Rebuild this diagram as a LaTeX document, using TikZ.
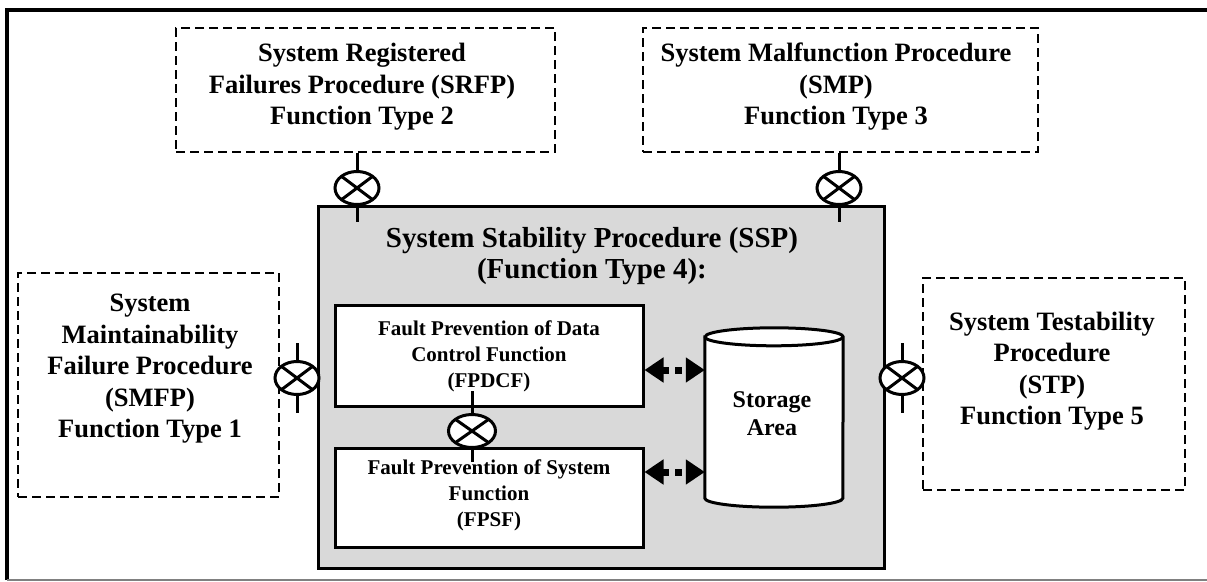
\documentclass[tikz,border=0pt]{standalone}
\usepackage{fontspec}
\setmainfont{Liberation Serif}
\usetikzlibrary{shapes.geometric,arrows.meta,calc}

\tikzset{
  proc/.style={draw, line width=2pt, dash pattern=on 9pt off 5pt, inner sep=0pt},
  lbl/.style={align=center, font=\bfseries\fontsize{26.5}{31.5}\selectfont, inner sep=0pt},
  sub/.style={draw, line width=3pt, fill=white, inner sep=0pt},
  sublbl/.style={align=center, font=\bfseries\fontsize{21}{26}\selectfont, inner sep=0pt},
  xsym/.style={ellipse, draw, line width=3pt, fill=white, minimum width=44pt, minimum height=33pt, inner sep=0pt,
    path picture={\draw[line width=3pt] (path picture bounding box.north west) -- (path picture bounding box.south east)
      (path picture bounding box.north east) -- (path picture bounding box.south west);}},
  stub/.style={line width=3pt},
  flow/.style={line width=7pt, dash pattern=on 7pt off 6pt,
    {Triangle[length=19pt,width=24pt]}-{Triangle[length=19pt,width=24pt]}},
}

\begin{document}
\begin{tikzpicture}[x=1pt, y=-1pt]
\useasboundingbox (0,0) rectangle (1207,581);

% outer frame
\draw[line width=4pt] (7,580) -- (7,10) -- (1207,10);
\draw[gray, line width=1.5pt] (7,580) -- (1207,580);

% outer procedures
\node[proc, minimum width=379pt, minimum height=124pt] (srfp) at (365.5,90) {};
\node[lbl] (srfpt) at (362,87) {System Registered\\Failures Procedure (SRFP)\\Function Type 2};

\node[proc, minimum width=395pt, minimum height=124pt] (smp) at (840.5,90) {};
\node[lbl] (smpt) at (836,87) {System Malfunction Procedure\\(SMP)\\Function Type 3};

\node[proc, minimum width=261pt, minimum height=224pt] (smfp) at (148.5,385) {};
\node[lbl] (smfpt) at (150,369) {System\\Maintainability\\Failure Procedure\\(SMFP)\\Function Type 1};

\node[proc, minimum width=262pt, minimum height=212pt] (stp) at (1054,384) {};
\node[lbl] (stpt) at (1052,371) {System Testability\\Procedure\\(STP)\\Function Type 5};

% stability procedure
\node[draw, line width=3pt, fill=black!15, minimum width=566pt, minimum height=362pt, inner sep=0pt] (ssp) at (601,387) {};
\node[align=center, font=\bfseries\fontsize{29}{31}\selectfont, inner sep=0pt] (sspt) at (592,256)
  {System Stability Procedure (SSP)\\(Function Type 4):};

\node[sub, minimum width=308pt, minimum height=101pt] (fpdcf) at (489,355.5) {};
\node[sublbl] (fpdcft) at (489,356) {Fault Prevention of Data\\Control Function\\(FPDCF)};

\node[sub, minimum width=308pt, minimum height=99pt] (fpsf) at (489,497.5) {};
\node[sublbl] (fpsft) at (489,495) {Fault Prevention of System\\Function\\(FPSF)};

% storage cylinder: frame node plus drawn outline
\node[minimum width=138pt, minimum height=179pt, inner sep=0pt] (store) at (774,417.5) {};
\draw[line width=3pt, fill=white]
  ($(store.north west)+(0,9)$) -- ($(store.south west)+(0,-9)$)
  arc[start angle=180, end angle=360, x radius=69pt, y radius=9pt]
  -- ($(store.north east)+(0,9)$)
  arc[start angle=0, end angle=180, x radius=69pt, y radius=9pt] -- cycle;
\draw[line width=3pt] ($(store.north west)+(0,9)$)
  arc[start angle=180, end angle=360, x radius=69pt, y radius=9pt];
\node[align=center, font=\bfseries\fontsize{24}{28}\selectfont, inner sep=0pt] (storet) at (772,414) {Storage\\Area};

% data flows to storage
\path (fpdcf.east) ++(0,14.5) coordinate (f1);
\path (fpsf.east) ++(0,-25.5) coordinate (f2);
\draw[flow] (f1) -- (f1 -| store.west);
\draw[flow] (f2) -- (f2 -| store.west);

% interface symbols
\node[xsym] (x1) at (357,188) {};
\draw[stub] (x1.north) -- (x1.north |- srfp.south);
\draw[stub] (x1.south) -- ++(0,16);

\node[xsym] (x2) at (839,188) {};
\draw[stub] (x2.north) -- (x2.north |- smp.south);
\draw[stub] (x2.south) -- ++(0,16);

\node[xsym] (x3) at (297,378) {};
\draw[stub] (x3.north) -- ++(0,-17);
\draw[stub] (x3.south) -- ++(0,17);

\node[xsym] (x4) at (902,378) {};
\draw[stub] (x4.north) -- ++(0,-17);
\draw[stub] (x4.south) -- ++(0,17);

\node[xsym, minimum width=47pt] (x5) at (472,431) {};
\draw[stub] (x5.north) -- ++(0,-22);
\draw[stub] (x5.south) -- ++(0,13);
\end{tikzpicture}
\end{document}
